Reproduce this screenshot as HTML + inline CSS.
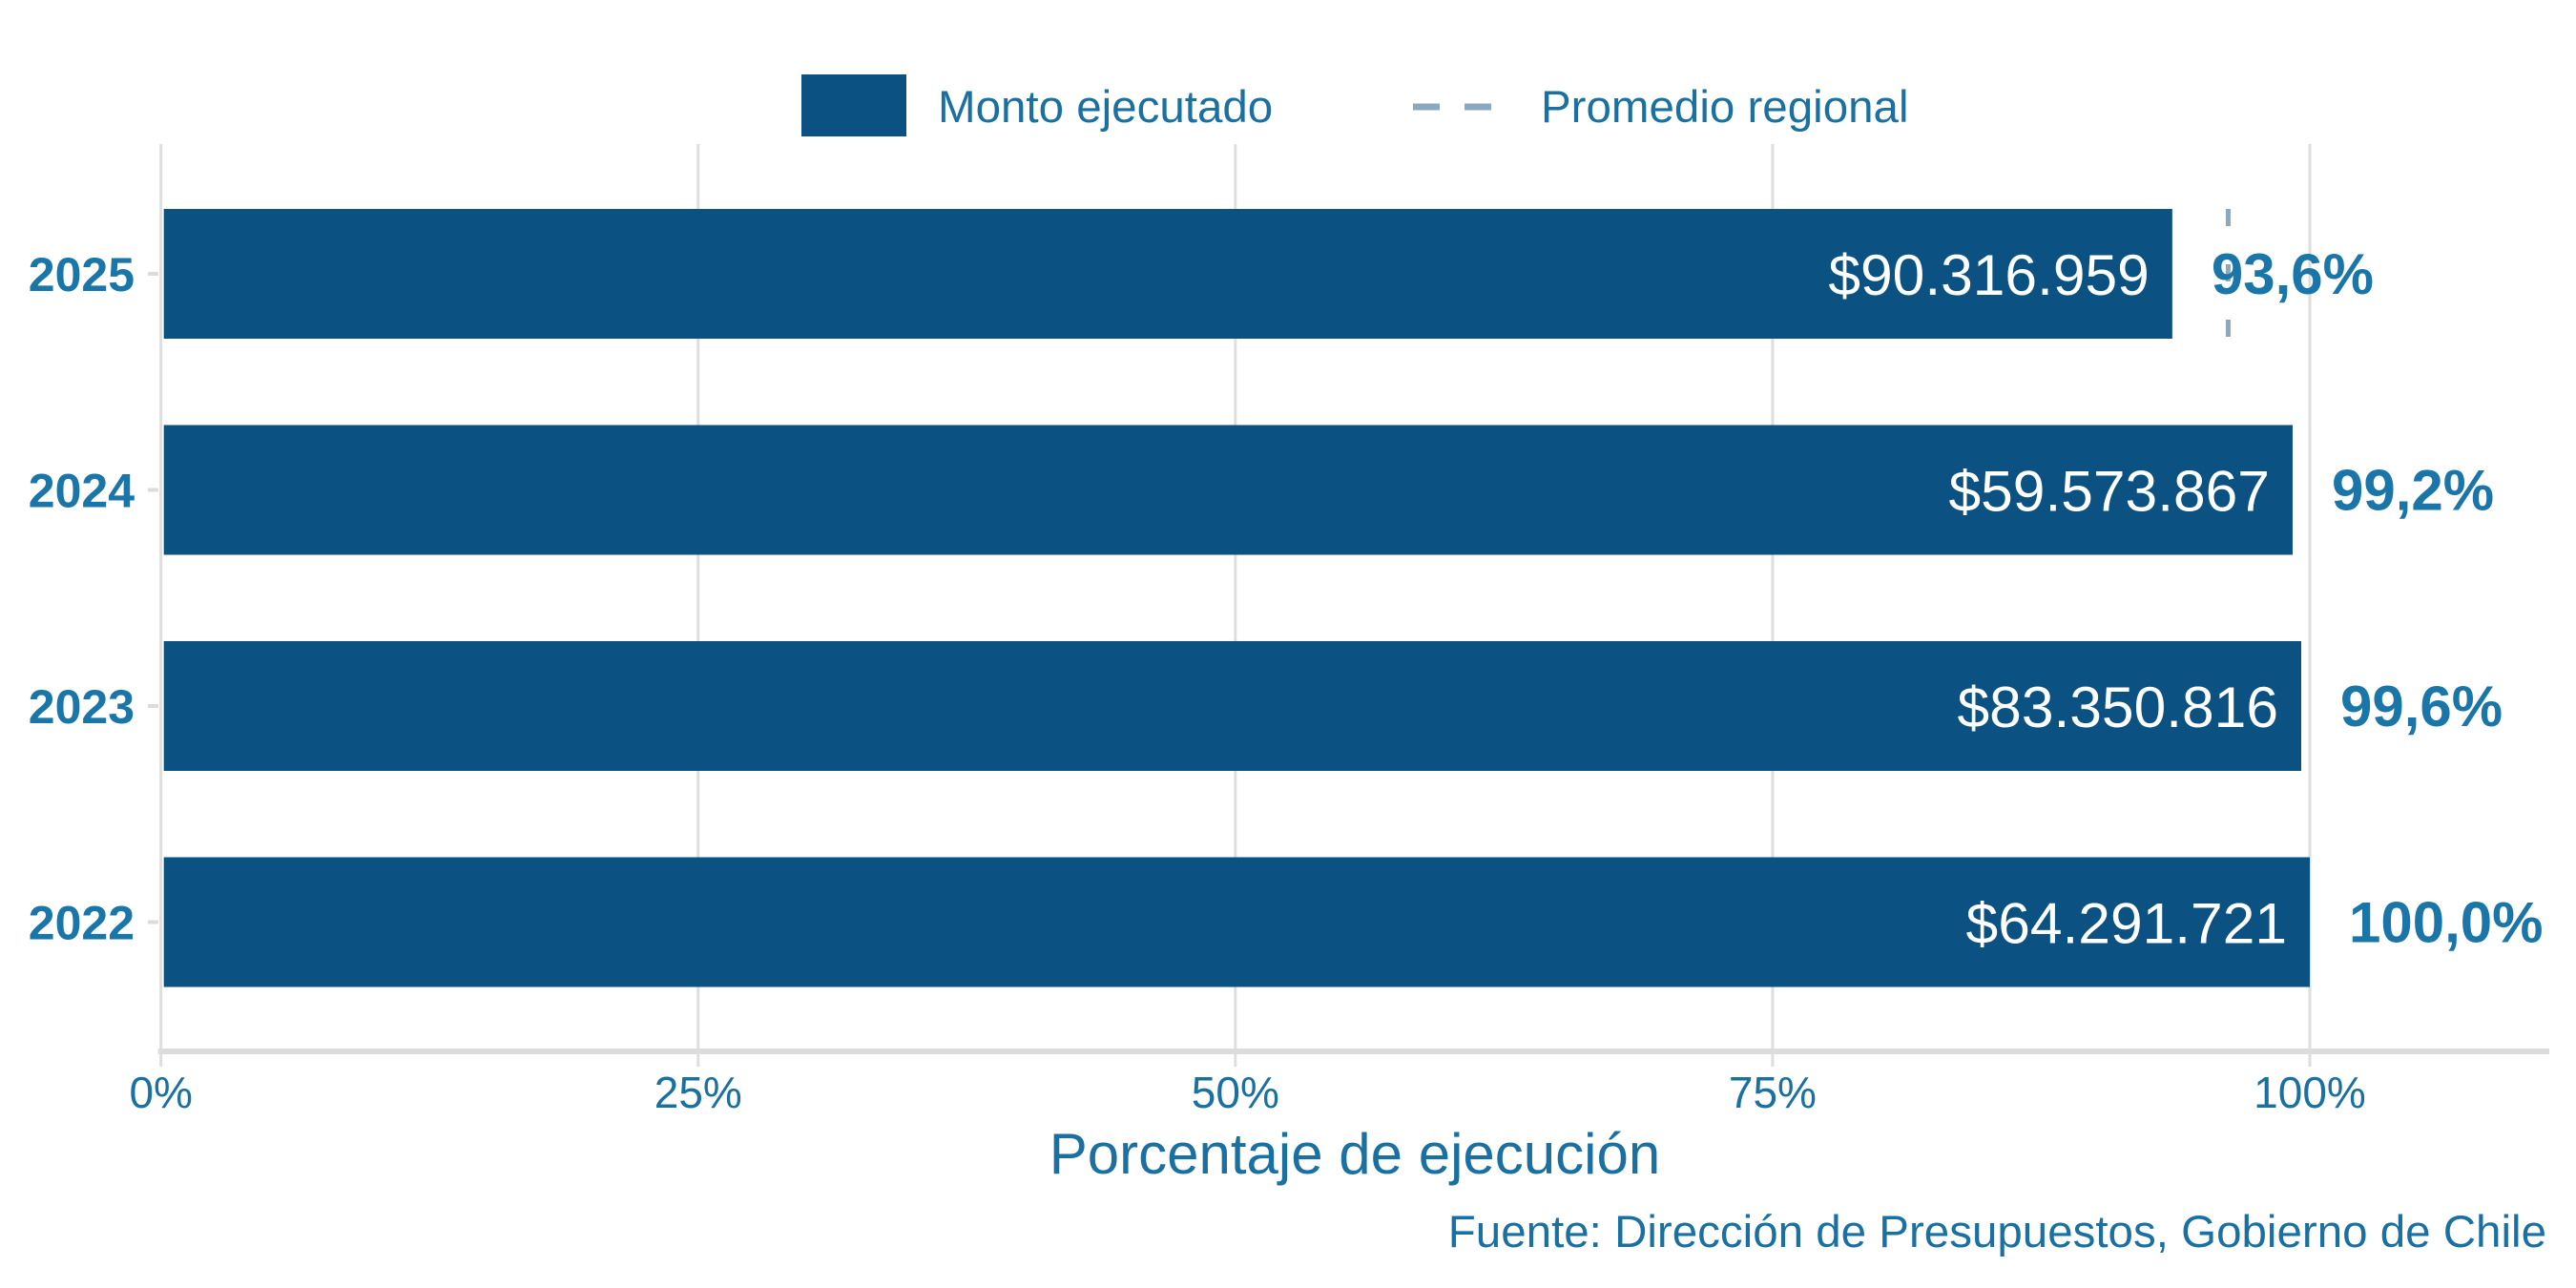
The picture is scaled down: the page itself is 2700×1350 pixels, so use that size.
<!DOCTYPE html>
<html><head><meta charset="utf-8"><style>
html,body{margin:0;padding:0;background:#fff;}
svg{display:block;font-family:"Liberation Sans",sans-serif;}
</style></head><body>
<svg id="chart" width="2700" height="1350" viewBox="0 0 2700 1350">
<g id="grid"></g>
<g id="avg"></g>
<g id="bars"></g>
<g id="labels"></g>
<g>
  <rect x="840" y="78" width="110" height="65" fill="#0b5282"/>
  <text x="983" y="128" font-size="47.5" fill="#1a70a0">Monto ejecutado</text>
  <line x1="1481" y1="112" x2="1563" y2="112" stroke="#8aa9c1" stroke-width="7" stroke-dasharray="28,26"/>
  <text x="1615" y="128" font-size="47.5" fill="#1a70a0">Promedio regional</text>
</g>
<text x="1420" y="1230" font-size="60" fill="#1a70a0" text-anchor="middle">Porcentaje de ejecución</text>
<text x="2669" y="1307" font-size="47.5" fill="#1a70a0" text-anchor="end">Fuente: Dirección de Presupuestos, Gobierno de Chile</text>
</svg>
<script>
const years = ["2025","2024","2023","2022"];
const pct = [93.6, 99.2, 99.6, 100.0];
const montos = ["$90.316.959","$59.573.867","$83.350.816","$64.291.721"];
const pctLabels = ["93,6%","99,2%","99,6%","100,0%"];
const regionalAvg = [96.2, 96.2, 96.2, 96.2];
const xTicks = [0,25,50,75,100];
const xTickLabels = ["0%","25%","50%","75%","100%"];

const NS="http://www.w3.org/2000/svg";
const x0=168.7, x100=2421, plotTop=151, axisY=1102, step=226.5, barH=136;
const xs=v=>x0+(x100-x0)*v/100;
function mk(tag,attrs,parent){const e=document.createElementNS(NS,tag);for(const k in attrs)e.setAttribute(k,attrs[k]);parent.appendChild(e);return e;}
const grid=document.getElementById('grid');
xTicks.forEach((t,i)=>{
  const l=mk('line',{x1:xs(t),x2:xs(t),y1:plotTop,y2:axisY+16,stroke:'#dedede','stroke-width':3},grid);
  
  
  const tx=mk('text',{x:xs(t),y:1161,'font-size':46,fill:'#1a70a0','text-anchor':'middle'},grid);
  tx.textContent=xTickLabels[i];
  
  
});
const ax=mk('line',{x1:x0-3,x2:2672,y1:axisY,y2:axisY,stroke:'#dcdcdc','stroke-width':6},grid);


const bars=document.getElementById('bars'),labels=document.getElementById('labels'),avg=document.getElementById('avg');
years.forEach((y,i)=>{
  const by=219+i*step, cy=by+barH/2;
  const a=mk('line',{x1:xs(regionalAvg[i]),x2:xs(regionalAvg[i]),y1:by,y2:by+barH,stroke:'#8aa9c1','stroke-width':5,'stroke-dasharray':'18,40'},avg);
  
  
  const r=mk('rect',{x:x0+3,y:by,width:xs(pct[i])-x0-3,height:barH,fill:'#0b5282'},bars);
  
  
  const v=mk('text',{x:xs(pct[i])-24,y:cy+22,'font-size':60.5,fill:'#fff','text-anchor':'end'},labels);
  v.textContent=montos[i];
  
  
  const p=mk('text',{x:xs(pct[i])+41,y:cy+21,'font-size':60,'font-weight':'bold',fill:'#1a75a8'},labels);
  p.textContent=pctLabels[i];
  
  
  const t=mk('line',{x1:155,x2:166,y1:cy,y2:cy,stroke:'#dcdcdc','stroke-width':4},labels);
  
  
  const yl=mk('text',{x:141,y:cy+18,'font-size':50,'font-weight':'bold',fill:'#1a75a8','text-anchor':'end'},labels);
  yl.textContent=y;
  
  
});
</script>
</body></html>
